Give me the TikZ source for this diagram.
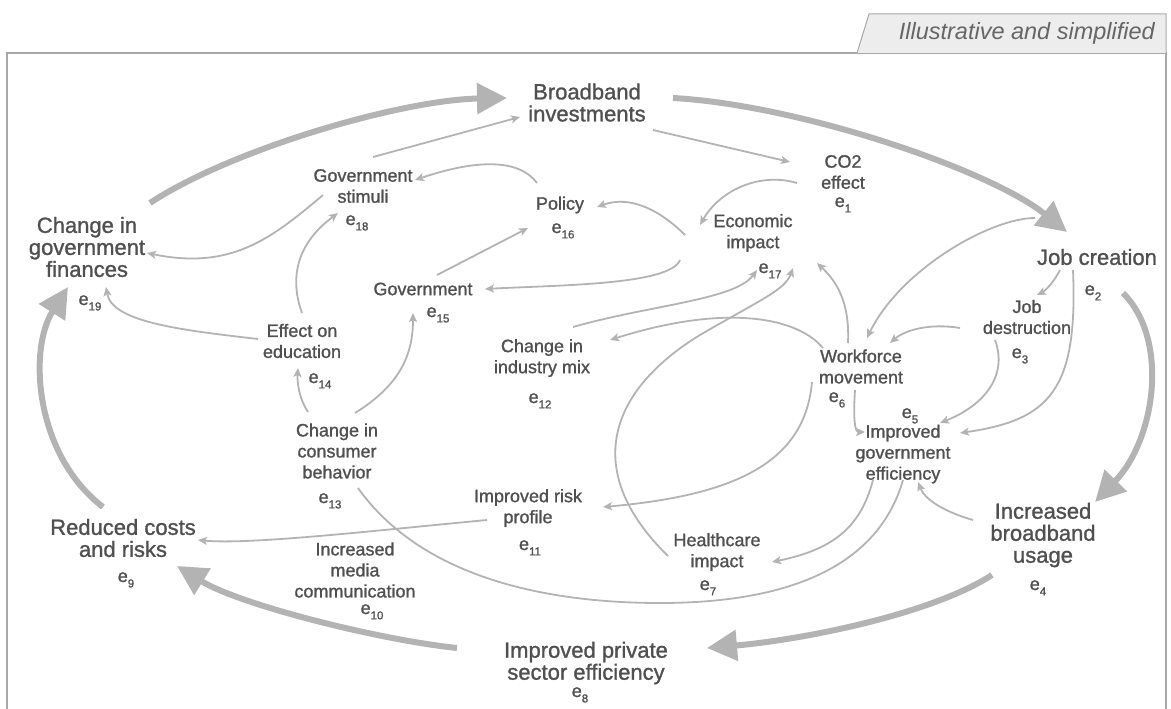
\documentclass[tikz,border=0pt]{standalone}
\usepackage{fontspec}
\setmainfont{Liberation Sans}[BoldFont={Liberation Sans},BoldFeatures={FakeBold=1.2},BoldItalicFont={Liberation Sans Italic}]
\usetikzlibrary{arrows.meta}
\definecolor{txt}{HTML}{505050}
\definecolor{arr}{HTML}{B3B3B3}
\definecolor{frm}{HTML}{A8A8A8}
\definecolor{tabfill}{HTML}{EDEDED}
\definecolor{tabtxt}{HTML}{666666}
\newcommand{\esub}[1]{e\raisebox{-0.3em}{\fontsize{11.5}{11.5}\selectfont #1}}
\begin{document}
\begin{tikzpicture}[x=1pt,y=-1pt,
  major/.style={align=center,inner sep=0pt,text=txt,font=\fontsize{22}{22}\selectfont\bfseries},
  minor/.style={align=center,inner sep=0pt,text=txt,font=\fontsize{18}{21}\selectfont\bfseries},
  elab/.style={inner sep=0pt,text=txt,font=\fontsize{18}{18}\selectfont\bfseries,anchor=base},
  thin/.style={draw=arr,line width=1.8pt,-{Stealth[length=9pt,width=8pt,inset=2pt]}},
  plain/.style={draw=arr,line width=1.8pt},
  thick/.style={draw=arr,line width=6pt,-{Triangle[length=30pt,width=30pt]}},
]
\useasboundingbox (0,0) rectangle (1171,709);
% frame and tab
\draw[frm,line width=1.5pt] (7,720) -- (7,53) -- (1166,53) -- (1166,720);
\draw[frm,fill=tabfill,line width=1pt] (857,53) -- (869,14) -- (1166,14) -- (1166,53);
\node[inner sep=0pt,text=tabtxt,font=\fontsize{23.5}{23.5}\selectfont\itshape,anchor=east] (tab) at (1155,33) {Illustrative and simplified};

% major nodes
\node[major] (bi) at (587,102.5) {Broadband\\investments};
\node[major] (jc) at (1097,257) {Job creation};
\node[major] (ibu) at (1043,535) {Increased\\broadband\\usage};
\node[major] (ipse) at (586,663) {Improved private\\sector efficiency};
\node[major] (rcr) at (123,538) {Reduced costs\\and risks};
\node[major] (cgf) at (87,247) {Change in\\government\\finances};

% minor nodes
\node[minor] (co2) at (843,172) {CO2\\effect};
\node[minor] (jd) at (1027,317) {Job\\destruction};
\node[minor] (ige) at (903,454) {Improved\\government\\efficiency};
\node[minor] (wm) at (861,366.5) {Workforce\\movement};
\node[minor] (hc) at (717,552) {Healthcare\\impact};
\node[minor] (cim) at (542,358) {Change in\\industry mix};
\node[minor] (ei) at (753,233) {Economic\\impact};
\node[minor] (pol) at (560,205) {Policy};
\node[minor] (gov) at (423,289) {Government};
\node[minor] (stim) at (363,186) {Government\\stimuli};
\node[minor] (edu) at (302,341) {Effect on\\education};
\node[minor] (ccb) at (337,451) {Change in\\consumer\\behavior};
\node[minor] (irp) at (528,508) {Improved risk\\profile};
\node[minor] (imc) at (355,570) {Increased\\media\\communication};

% e labels
\node[elab] (e1) at (843,207) {\esub{1}};
\node[elab] (e2) at (1093,295) {\esub{2}};
\node[elab] (e3) at (1020,358) {\esub{3}};
\node[elab] (e4) at (1038,590) {\esub{4}};
\node[elab] (e5) at (910,418) {\esub{5}};
\node[elab] (e6) at (837,402) {\esub{6}};
\node[elab] (e7) at (708,590) {\esub{7}};
\node[elab] (e8) at (580,697) {\esub{8}};
\node[elab] (e9) at (126,582) {\esub{9}};
\node[elab] (e10) at (372,614) {\esub{10}};
\node[elab] (e11) at (530,550) {\esub{11}};
\node[elab] (e12) at (540,403) {\esub{12}};
\node[elab] (e13) at (330,503) {\esub{13}};
\node[elab] (e14) at (320,383) {\esub{14}};
\node[elab] (e15) at (438,317) {\esub{15}};
\node[elab] (e16) at (563,233) {\esub{16}};
\node[elab] (e17) at (770,273) {\esub{17}};
\node[elab] (e18) at (357,225) {\esub{18}};
\node[elab] (e19) at (90,305) {\esub{19}};

% big loop arrows
\draw[thick] ([shift={(63,-44)}]cgf.center) .. controls +(80,-53) and +(-107,2) .. ([shift={(-80,-4.5)}]bi.center);
\draw[thick] ([shift={(86,-4.5)}]bi.center) .. controls +(127,7) and +(-77,-62) .. ([shift={(-30,-25)}]jc.center);
\draw[thick] ([shift={(26,36)}]jc.center) .. controls +(47,47) and +(60,-62) .. ([shift={(52,-33)}]ibu.center);
\draw[thick] ([shift={(-51,40)}]ibu.center) .. controls +(-62,40) and +(93,-8) .. ([shift={(121,-15)}]ipse.center);
\draw[thick] ([shift={(-129,-15)}]ipse.center) .. controls +(-77,-8) and +(63,39) .. ([shift={(54,28)}]rcr.center);
\draw[thick] ([shift={(-20,-31)}]rcr.center) .. controls +(-68,-52) and +(-40,63) .. ([shift={(-19,40)}]cgf.center);

% thin connectors
\draw[thin] ([shift={(10,-29)}]stim.center) -- ([shift={(-67,14.5)}]bi.center);
\draw[thin] ([shift={(66,27.5)}]bi.center) -- ([shift={(-53,-10)}]co2.center);
\draw[thin] ([shift={(-46,11)}]co2.center) .. controls +(-37,-11) and +(20,-35) .. ([shift={(-53,-8)}]ei.center);
\draw[thin] ([shift={(-23,-22)}]pol.center) .. controls +(-17,-23) and +(65,-22) .. ([shift={(52,-6)}]stim.center);
\draw[thin] ([shift={(-68,2)}]ei.center) .. controls +(-25,-25) and +(33,-12) .. ([shift={(37,2)}]pol.center);
\draw[thin] ([shift={(-73,27)}]ei.center) .. controls +(-10,25) and +(75,-4) .. ([shift={(62,0)}]gov.center);
\draw[thin] ([shift={(14,-14)}]gov.center) -- ([shift={(-32,23)}]pol.center);
\draw[thin] ([shift={(-40,9)}]stim.center) .. controls +(-53,45) and +(83,17) .. ([shift={(60,6)}]cgf.center);
\draw[thin] ([shift={(0,-28)}]edu.center) .. controls +(-12,-33) and +(-43,32) .. ([shift={(-25,27)}]stim.center);
\draw[thin] ([shift={(-44,-2)}]edu.center) .. controls +(-78,-9) and +(6,35) .. ([shift={(19,40)}]cgf.center);
\draw[thin] ([shift={(-29,-39)}]ccb.center) .. controls +(-8,-12) and +(-1,17) .. ([shift={(-4,27)}]edu.center);
\draw[thin] ([shift={(18,-38)}]ccb.center) .. controls +(45,-28) and +(0,42) .. ([shift={(-10,24)}]gov.center);
\draw[plain] ([shift={(21,37)}]ccb.center) .. controls +(62,87) and +(-120,0) .. ([shift={(-57,51)}]hc.center)
   .. controls +(140,0) and +(-23,80) .. ([shift={(0,26)}]ige.center);
\draw[thin] ([shift={(-41,12)}]irp.center) .. controls +(-107,10) and +(52,5) .. ([shift={(75,2)}]rcr.center);
\draw[thin] ([shift={(-49,15.5)}]wm.center) .. controls +(-7,78) and +(137,-12) .. ([shift={(75,-1)}]irp.center);
\draw[thin] ([shift={(-38,-18.5)}]wm.center) .. controls +(-28,-33) and +(110,-35) .. ([shift={(68,-18)}]cim.center);
\draw[thin] ([shift={(31,-31)}]cim.center) .. controls +(77,-22) and +(-22,30) .. ([shift={(4,37)}]ei.center);
\draw[thin] ([shift={(-49,4)}]hc.center) .. controls +(-88,-86) and +(-90,55) .. ([shift={(-53,102)}]ei.center)
   .. controls +(60,-35) and +(-8,22) .. ([shift={(40,35)}]ei.center);
\draw[thin] ([shift={(-13,-23.5)}]wm.center) .. controls +(2,-43) and +(18,17) .. ([shift={(64,30)}]ei.center);
\draw[thin] ([shift={(-62,-39)}]jc.center) .. controls +(-45,0) and +(33,-68) .. ([shift={(6,-28.5)}]wm.center);
\draw[thin] ([shift={(-67,11)}]jd.center) .. controls +(-30,-5) and +(15,-13) .. ([shift={(29,-23.5)}]wm.center);
\draw[thin] ([shift={(-37,13)}]jc.center) .. controls +(-6,12) and +(8,-4) .. ([shift={(10,-22)}]jd.center);
\draw[thin] ([shift={(-24,13)}]jc.center) .. controls +(5,120) and +(90,-13) .. ([shift={(57,-21)}]ige.center);
\draw[thin] ([shift={(-32,23)}]jd.center) .. controls +(13,35) and +(45,-18) .. ([shift={(37,-31)}]ige.center);
\draw[thin] ([shift={(-6,23.5)}]wm.center) .. controls +(-2,30) and +(-10,0) .. ([shift={(-38,-22)}]ige.center);
\draw[thin] ([shift={(-30,26)}]ige.center) .. controls +(-13,50) and +(58,-12) .. ([shift={(55,10)}]hc.center);
\draw[thin] ([shift={(-70,-15)}]ibu.center) .. controls +(-28,-8) and +(7,18) .. ([shift={(15,28)}]ige.center);
\end{tikzpicture}
\end{document}
